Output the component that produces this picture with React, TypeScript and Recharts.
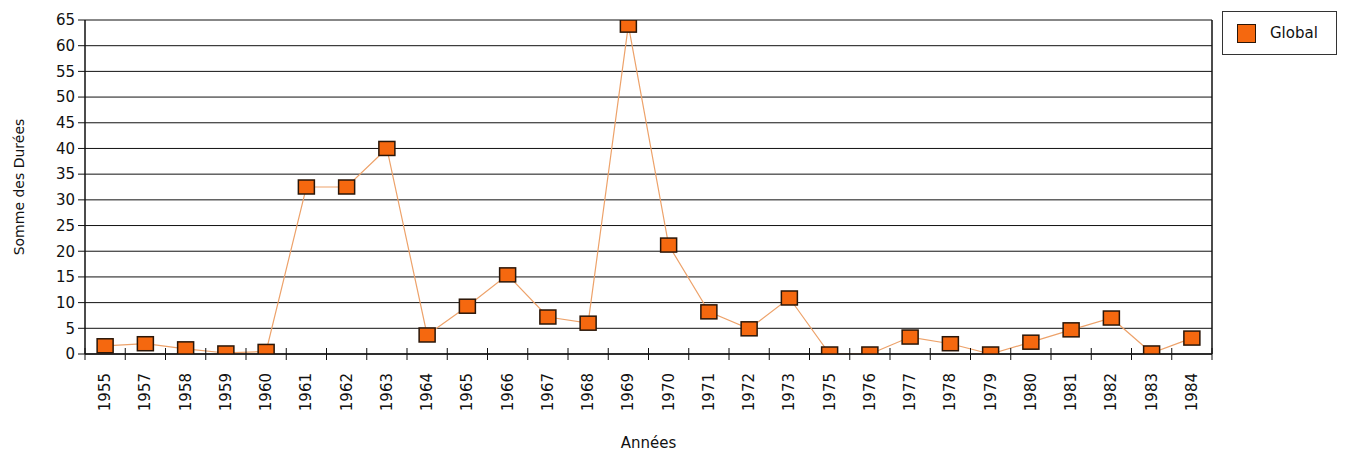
import React from 'react';
import { LineChart, Line, XAxis, YAxis, CartesianGrid, Legend } from 'recharts';

// years present in the pivot (1956 and 1974 are missing in the source)
const years = [
  '1955', '1957', '1958', '1959', '1960', '1961', '1962', '1963', '1964', '1965',
  '1966', '1967', '1968', '1969', '1970', '1971', '1972', '1973', '1975', '1976',
  '1977', '1978', '1979', '1980', '1981', '1982', '1983', '1984',
];
const totals = [
  1.6, 2, 1, 0.2, 0.5, 32.5, 32.5, 40, 3.7, 9.3,
  15.4, 7.2, 6, 64, 21.2, 8.2, 4.9, 10.9, 0, 0,
  3.3, 2, 0, 2.3, 4.7, 7, 0.2, 3.1,
];
const yTicks = [0, 5, 10, 15, 20, 25, 30, 35, 40, 45, 50, 55, 60, 65];

const data = years.map((year, i) => ({ year, global: totals[i] }));

const FONT = '"DejaVu Sans", Verdana, sans-serif';
const INK = '#111';
const ORANGE = '#f5680f';
const EDGE = '#2a1608';
const LINE = '#eda26a';

const W = 1340;
const H = 446;
const MARGIN = { top: 12, right: 136, bottom: 10, left: 17 };
const X_AXIS_H = 90;
// plot edges, used to cut the square markers like Excel does
const PLOT_TOP = MARGIN.top;
const PLOT_BOTTOM = H - MARGIN.bottom - X_AXIS_H;

const SquareDot = (props: any) => {
  const { cx, cy, index } = props;
  if (cx == null || cy == null) return null;
  const top = Math.max(cy - 7, PLOT_TOP);
  const bottom = Math.min(cy + 7, PLOT_BOTTOM);
  return <rect key={index} x={cx - 8} y={top} width={16} height={bottom - top} fill={ORANGE} stroke={EDGE} strokeWidth={1.5} />;
};

const YearTick = (props: any) => {
  const { x, y, payload, index } = props;
  const half = payload.offset || 20.125;
  const ty = y + 19;
  return (
    <g>
      <line x1={x - half} x2={x - half} y1={y - 6} y2={y + 6} stroke={INK} />
      {index === years.length - 1 && <line x1={x + half} x2={x + half} y1={y - 6} y2={y + 6} stroke={INK} />}
      <text
        x={x}
        y={ty}
        transform={`rotate(-90 ${x} ${ty})`}
        textAnchor="end"
        dominantBaseline="central"
        fontSize={15}
        fontFamily={FONT}
        fill={INK}
      >
        {payload.value}
      </text>
    </g>
  );
};

const LegendBox = () => (
  <div
    style={{
      width: 113,
      height: 42,
      border: '1px solid #333',
      background: '#fff',
      display: 'flex',
      alignItems: 'center',
      fontFamily: FONT,
      fontSize: 15,
      color: INK,
    }}
  >
    <span style={{ display: 'inline-block', width: 17, height: 17, background: ORANGE, border: `1.5px solid ${EDGE}`, marginLeft: 14, marginRight: 14 }} />
    Global
  </div>
);

export default function App() {
  return (
    <LineChart width={W} height={H} data={data} margin={MARGIN}>
      <CartesianGrid vertical={false} stroke={INK} strokeOpacity={1} />
      {/* right border of the plot area */}
      <CartesianGrid
        horizontal={false}
        stroke={INK}
        strokeWidth={1.5}
        strokeOpacity={1}
        verticalCoordinatesGenerator={({ offset }: any) => [offset.left + offset.width]}
      />
      <XAxis
        dataKey="year"
        scale="band"
        interval={0}
        height={X_AXIS_H}
        tickSize={0}
        tickMargin={0}
        tickLine={false}
        axisLine={{ stroke: INK, strokeWidth: 1.5 }}
        tick={<YearTick />}
        label={{
          content: (p: any) => (
            <text x={p.viewBox.x + p.viewBox.width / 2} y={p.viewBox.y + 89} textAnchor="middle" dominantBaseline="central" fontSize={15} fontFamily={FONT} fill={INK}>
              Années
            </text>
          ),
        }}
      />
      <YAxis
        width={60}
        domain={[0, 65]}
        ticks={yTicks}
        interval={0}
        allowDataOverflow
        tickSize={7}
        tickMargin={3}
        axisLine={{ stroke: INK, strokeWidth: 1.5 }}
        tickLine={{ stroke: INK }}
        tick={{ fontSize: 15, fontFamily: FONT, fill: INK }}
        label={{
          content: (p: any) => {
            const cy = p.viewBox.y + p.viewBox.height / 2;
            return (
              <text x={11} y={cy} transform={`rotate(-90 11 ${cy})`} textAnchor="middle" dominantBaseline="central" fontSize={14} fontFamily={FONT} fill={INK}>
                Somme des Durées
              </text>
            );
          },
        }}
      />
      <Legend
        layout="vertical"
        align="center"
        verticalAlign="middle"
        wrapperStyle={{ left: 1214, top: 3, width: 115, height: 44 }}
        content={() => <LegendBox />}
      />
      <Line
        type="linear"
        dataKey="global"
        name="Global"
        stroke={LINE}
        strokeWidth={1.2}
        dot={<SquareDot />}
        activeDot={false}
        isAnimationActive={false}
      />
    </LineChart>
  );
}
